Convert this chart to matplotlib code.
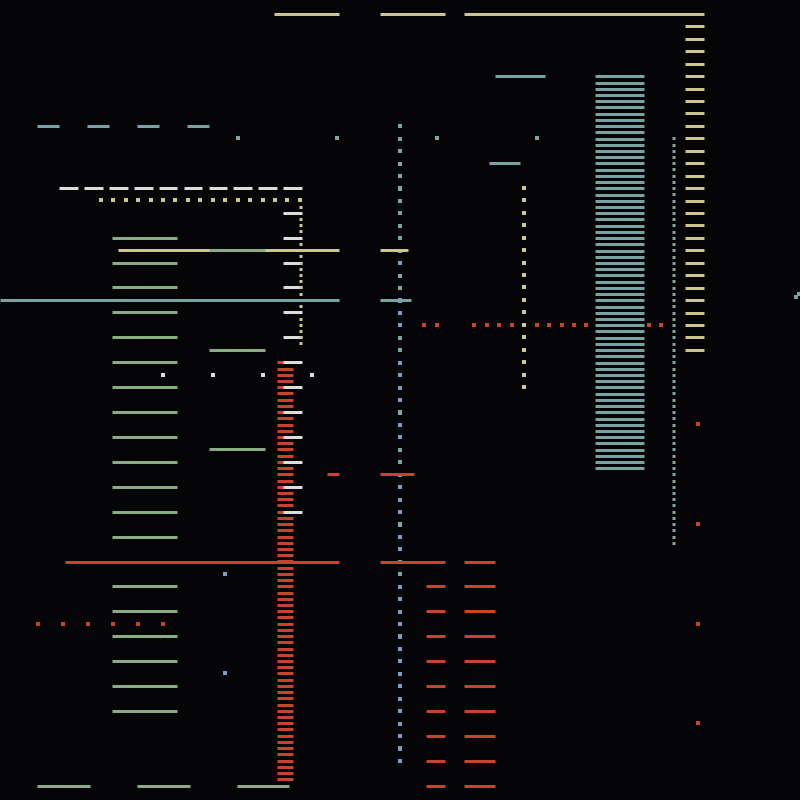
"""Abstract line composition on a dark canvas, pixel units (800 x 800)."""

import matplotlib
matplotlib.use("Agg")
import matplotlib.pyplot as plt

BG = "#050508"
YELLOW = "#cbc78e"
GREEN = "#88ad84"
TEAL = "#79a3a3"
TEAL_DOT = "#7fa898"
BLUE = "#7d9ec4"
WHITE = "#dcdcdc"
RED = "#c8432e"

# horizontal segments: (y, x0, x1)
yellow_top = [(14, 274, 339), (14, 380, 445), (14, 464, 704)]
yellow_mid = [(250, 118, 339), (250, 380, 408)]
yellow_tick_y = [26.3, 38.7, 51.2, 63.6, 76.1, 88.5, 101.0, 113.4, 125.9, 138.3,
                 150.7, 163.2, 175.6, 188.1, 200.5, 213.0, 225.4, 237.9, 250.3,
                 262.7, 275.2, 287.6, 300.1, 312.5, 325.0, 337.4, 349.9]
yellow_row_x = [101.3, 113.3, 126.3, 138.3, 150.7, 163.3, 175.3, 188.3, 200.3,
                213.3, 225.3, 238.3, 250.3, 262.7, 275.3, 287.3, 300.3]
yellow_col300_y = [206.7, 219.3, 225.3, 231.3, 244.3, 256.3, 262.7, 269.3, 275.3,
                   281.3, 287.3, 294.3, 306.3, 319.3, 325.3, 331.3, 337.3, 343.3]
yellow_col524_y = [188.3, 200.3, 213.3, 225.3, 238.3, 250.3, 262.7, 275.3, 287.3,
                   300.3, 312.3, 325.3, 337.3, 350.3, 362.3, 375.3, 387.3]

white_dash = [(59, 78), (84, 103), (109, 128), (134, 153), (159, 177),
              (184, 202), (209, 227), (233, 252), (258, 277), (283, 302)]
white_tick_y = [213.3, 238.3, 262.7, 287.3, 312.3, 337.3, 362.3, 387.3,
                412.3, 437.3, 462.3, 487.3, 512.3]
white_dot_x = [163.3, 213.3, 262.7, 312.3]

green_tick_y = [238.3, 262.7, 287.3, 312.3, 337.3, 362.3, 387.3, 412.3, 437.3,
                462.3, 487.3, 512.3, 536.7, 586.3, 611.3, 636.3, 661.3, 686.3, 711.3]
green_short_y = [250, 350.3, 449.3]
green_bottom = [(37, 90), (137, 190), (237, 289)]

teal_dash = [(37, 59), (87, 109), (137, 159), (187, 209)]
teal_dot_x = [238.3, 337.3, 437.3, 536.7]
teal_lines = [(300, 0, 339), (300, 380, 411), (76.3, 495, 545), (163.3, 489, 520)]
teal_stripe_y = [76.3, 82.5, 88.7, 94.9, 101.2, 107.4, 113.6, 119.9, 126.1, 132.3,
                 138.5, 144.7, 151.0, 157.2, 163.4, 169.6, 175.9, 182.1, 188.3, 194.5,
                 200.7, 207.0, 213.2, 219.4, 225.6, 231.8, 238.1, 244.3, 250.5, 256.7,
                 263.0, 269.2, 275.4, 281.6, 287.8, 294.1, 300.3, 306.5, 312.7, 319.0,
                 325.2, 331.4, 337.6, 343.8, 350.1, 356.3, 362.5, 368.7, 374.9, 381.2,
                 387.4, 393.6, 399.8, 406.1, 412.3, 418.5, 424.7, 430.9, 437.2, 443.4,
                 449.6, 455.8, 462.0, 468.3]
teal_col673_y = [138.3, 144.5, 150.7, 157.0, 163.2, 169.4, 175.6, 181.9, 188.1, 194.3,
                 200.5, 206.7, 213.0, 219.2, 225.4, 231.6, 237.9, 244.1, 250.3, 256.5,
                 262.7, 269.0, 275.2, 281.4, 287.6, 293.8, 300.1, 306.3, 312.5, 318.7,
                 325.0, 331.2, 337.4, 343.6, 349.8, 356.1, 362.3, 368.5, 374.7, 381.0,
                 387.2, 393.4, 399.6, 405.8, 412.1, 418.3, 424.5, 430.7, 436.9, 443.2,
                 449.4, 455.6, 461.8, 468.0, 474.3, 480.5, 486.7, 492.9, 499.2, 505.4,
                 511.6, 517.8, 524.0, 530.3, 536.5, 542.7]

# column of small marks at x=400, t = teal, b = blue
col400_y = [126.3, 138.7, 151.2, 163.6, 176.1, 188.5, 201.0, 213.4, 225.9, 238.3,
            250.7, 263.2, 275.6, 288.1, 300.5, 313.0, 325.4, 337.8, 350.3, 362.7,
            375.2, 387.6, 400.1, 412.5, 425.0, 437.4, 449.9, 462.3, 474.7, 487.2,
            499.6, 512.1, 524.5, 537.0, 549.4, 561.8, 574.3, 586.7, 599.2, 611.6,
            624.1, 636.5, 648.9, 661.4, 673.8, 686.3, 698.7, 711.2, 723.6, 736.1,
            748.5, 760.9]
col400_tone = list("tttttttttttbttbbbttbbbbtbbttbbbbtbbbtbbbbbbbbbbbbbbb")

red_lines = [(561.7, 65, 339), (561.7, 380, 445), (561.7, 464, 495),
             (474.3, 327, 339), (474.3, 380, 414)]
red_tick_y = [586.3, 611.3, 636.3, 661.3, 686.3, 711.3, 736.3, 761.3, 786.0]
red_stripe_y = [362.3, 368.5, 374.7, 381.0, 387.2, 393.4, 399.6, 405.9, 412.1, 418.3,
                424.5, 430.7, 437.0, 443.2, 449.4, 455.6, 461.9, 468.1, 474.3, 480.5,
                486.7, 493.0, 499.2, 505.4, 511.6, 517.8, 524.1, 530.3, 536.5, 542.7,
                548.9, 555.2, 561.4, 567.6, 573.8, 580.1, 586.3, 592.5, 598.7, 604.9,
                611.2, 617.4, 623.6, 629.8, 636.0, 642.3, 648.5, 654.7, 660.9, 667.2,
                673.4, 679.6, 685.8, 692.0, 698.3, 704.5, 710.7, 716.9, 723.1, 729.4,
                735.6, 741.8, 748.0, 754.3, 760.5, 766.7, 772.9, 779.2]
red_row325_x = [424.3, 437.3, 474.3, 487.3, 499.3, 512.3, 524.3, 536.7, 549.3,
                561.7, 574.3, 586.3, 649.3, 661.3]
red_row624_x = [38.3, 63.3, 88.3, 113.3, 138.3, 163.3]
red_col698_y = [424.3, 524.3, 624.3, 723.3]
blue_dot_y = [574.3, 673.3]

LW = 3 * 72 / 100  # 3 px
DOT = (3.6 * 72 / 100) ** 2


def segs(ax, rows, color, z=2, lw=LW):
    for y, x0, x1 in rows:
        ax.hlines(y, x0, x1, colors=color, linewidths=lw, capstyle="butt", zorder=z)


def dots(ax, xs, ys, color, z=3, s=DOT):
    ax.scatter(xs, ys, s=s, marker="s", c=color, linewidths=0, zorder=z)


def dot_column(ax, x0, x1, ys, color, z=3):
    # tiny 3 px segments render crisper than scatter squares in tight columns
    ax.hlines(ys, x0, x1, colors=color, linewidths=LW, capstyle="butt", zorder=z)


fig = plt.figure(figsize=(8, 8), dpi=100, facecolor=BG)
ax = fig.add_axes([0, 0, 1, 1])
ax.set_facecolor(BG)
ax.set_xlim(0, 800)
ax.set_ylim(800, 0)
ax.axis("off")

# teal / blue
segs(ax, [(126.3, a, b) for a, b in teal_dash], TEAL)
segs(ax, teal_lines, TEAL, z=4)
segs(ax, [(y, 595, 644) for y in teal_stripe_y], TEAL, z=4)
dots(ax, teal_dot_x, [138.3] * len(teal_dot_x), TEAL_DOT)
dot_column(ax, 672, 675, teal_col673_y, TEAL_DOT)
dots(ax, [795.5, 798.5], [297.3, 294.3], TEAL)
col_colors = [TEAL_DOT if t == "t" else BLUE for t in col400_tone]
ax.scatter([400] * len(col400_y), col400_y, s=DOT * 1.3, marker="s",
           c=col_colors, linewidths=0, zorder=1)
dots(ax, [225.3] * len(blue_dot_y), blue_dot_y, BLUE)

# red
segs(ax, [(y, 277, 293) for y in red_stripe_y], RED, z=2)
segs(ax, red_lines, RED, z=3)
segs(ax, [(y, 426, 445) for y in red_tick_y], RED)
segs(ax, [(y, 464, 495) for y in red_tick_y], RED)
dots(ax, red_row325_x, [325.3] * len(red_row325_x), RED, z=2)
dots(ax, red_row624_x, [624.3] * len(red_row624_x), RED)
dots(ax, [698.3] * len(red_col698_y), red_col698_y, RED)

# yellow
segs(ax, yellow_top, YELLOW)
segs(ax, yellow_mid, YELLOW)
segs(ax, [(y, 685, 704) for y in yellow_tick_y], YELLOW)
dots(ax, yellow_row_x, [200.3] * len(yellow_row_x), YELLOW)
dot_column(ax, 299, 302, yellow_col300_y, YELLOW, z=6)
dots(ax, [524.3] * len(yellow_col524_y), yellow_col524_y, YELLOW)

# white
segs(ax, [(188.3, a, b) for a, b in white_dash], WHITE)
segs(ax, [(y, 283, 302) for y in white_tick_y], WHITE, z=5)
dots(ax, white_dot_x, [375.3] * len(white_dot_x), WHITE)

# green
segs(ax, [(y, 112, 177) for y in green_tick_y], GREEN)
segs(ax, [(y, 209, 265) for y in green_short_y], GREEN, z=4)
segs(ax, [(786, a, b) for a, b in green_bottom], GREEN)

fig.savefig("out.png", dpi=100, facecolor=BG)
